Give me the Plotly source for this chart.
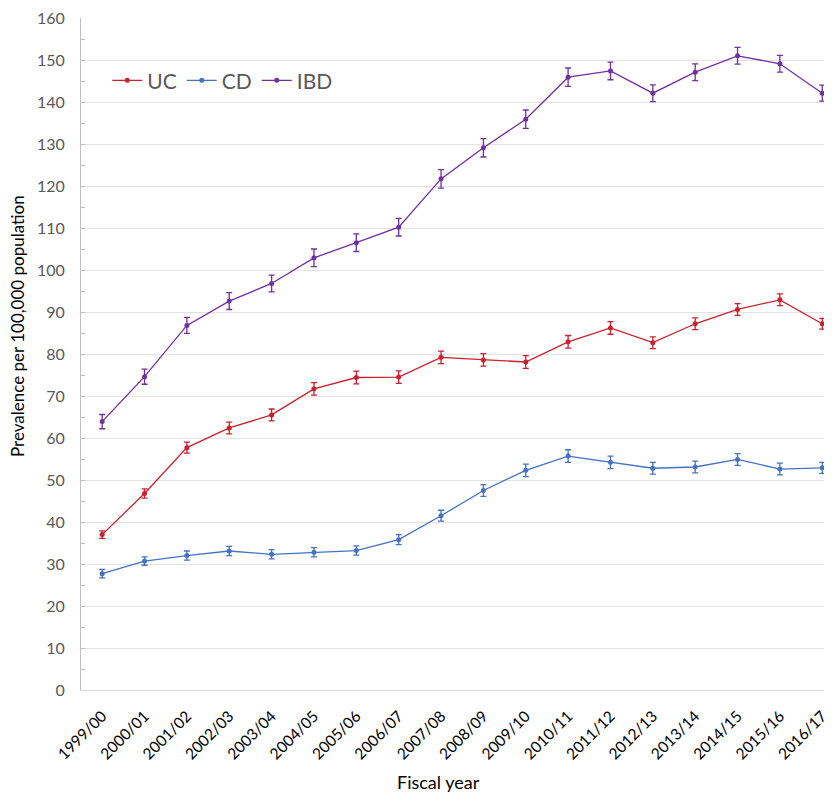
import plotly.graph_objects as go

years = ["1999/00", "2000/01", "2001/02", "2002/03", "2003/04", "2004/05", "2005/06",
         "2006/07", "2007/08", "2008/09", "2009/10", "2010/11", "2011/12", "2012/13",
         "2013/14", "2014/15", "2015/16", "2016/17"]

uc = [37.0, 46.8, 57.7, 62.4, 65.5, 71.7, 74.4, 74.5, 79.2, 78.6, 78.1, 82.9, 86.2, 82.7, 87.2, 90.6, 92.9, 87.2]
cd = [27.7, 30.7, 32.0, 33.1, 32.3, 32.8, 33.2, 35.8, 41.5, 47.5, 52.3, 55.7, 54.2, 52.8, 53.1, 54.9, 52.6, 52.9]
ibd = [63.9, 74.6, 86.8, 92.6, 96.8, 102.9, 106.5, 110.2, 121.7, 129.1, 135.9, 145.9, 147.4, 142.1, 147.1, 151.0, 149.1, 142.1]

uc_err = [0.9, 1.1, 1.3, 1.4, 1.4, 1.5, 1.5, 1.5, 1.5, 1.5, 1.5, 1.5, 1.5, 1.4, 1.4, 1.4, 1.4, 1.3]
cd_err = [1.0, 1.0, 1.1, 1.1, 1.1, 1.1, 1.1, 1.2, 1.3, 1.4, 1.5, 1.5, 1.5, 1.4, 1.4, 1.4, 1.4, 1.3]
ibd_err = [1.7, 1.8, 1.9, 2.0, 2.0, 2.1, 2.1, 2.1, 2.2, 2.2, 2.2, 2.2, 2.1, 2.0, 2.0, 2.0, 2.0, 1.9]

series = [
    ("UC", uc, uc_err, "#c9212b"),
    ("CD", cd, cd_err, "#4472c4"),
    ("IBD", ibd, ibd_err, "#7030a0"),
]

FONT = "Lato, Carlito, Calibri, sans-serif"
# page has an 8px body margin, so the figure is drawn 8px right/down of the window corner
W, H = 832, 796
L, T, R, B = 73, 10, 8, 114
PW, PH = W - L - R, H - T - B

fig = go.Figure()
for name, vals, err, col in series:
    fig.add_trace(go.Scatter(
        x=years, y=vals, name=name, mode="lines+markers",
        line=dict(color=col, width=1.3),
        marker=dict(color=col, size=5),
        error_y=dict(type="data", array=err, visible=True, color=col, thickness=1.3, width=3),
    ))

fig.update_layout(
    width=W, height=H,
    margin=dict(l=L, r=R, t=T, b=B, autoexpand=False),
    paper_bgcolor="white", plot_bgcolor="white",
    font=dict(family=FONT, color="#595959", size=15),
    showlegend=True,
    legend=dict(orientation="h", x=0.035, y=1 - (72.7 - T) / PH, xanchor="left", yanchor="middle",
                font=dict(size=21, color="#595959"), bgcolor="rgba(0,0,0,0)",
                itemwidth=30, tracegroupgap=0),
)
fig.update_xaxes(
    type="category", range=[-0.5, 17.23], tickangle=-45, automargin=False,
    showgrid=False, showline=True, linecolor="#d9d9d9", linewidth=1,
    ticks="", tickfont=dict(size=15.5, color="#000000"), ticklabelstandoff=10,
)
fig.update_yaxes(
    range=[0, 160], dtick=10, showgrid=True, gridcolor="#e3e3e3", gridwidth=1, automargin=False,
    showline=True, linecolor="#bfbfbf", linewidth=1, zeroline=False,
    ticks="inside", ticklen=4, tickcolor="#bfbfbf", ticklabeloverflow="allow",
    minor=dict(dtick=5, ticks="inside", ticklen=4, tickcolor="#bfbfbf", showgrid=False),
    tickfont=dict(size=16, color="#595959"), ticklabelstandoff=12,
)
fig.add_annotation(text="Prevalence per 100,000 population", xref="paper", yref="paper",
                   x=(10 - L) / PW, y=1 - (318 - T) / PH, textangle=-90,
                   xanchor="center", yanchor="middle", showarrow=False,
                   font=dict(size=17, color="#000000", family=FONT))
fig.add_annotation(text="Fiscal year", xref="paper", yref="paper",
                   x=(430 - L) / PW, y=-(92 / PH),
                   xanchor="center", yanchor="middle", showarrow=False,
                   font=dict(size=18, color="#000000", family=FONT))

fig.write_html("out.html")
